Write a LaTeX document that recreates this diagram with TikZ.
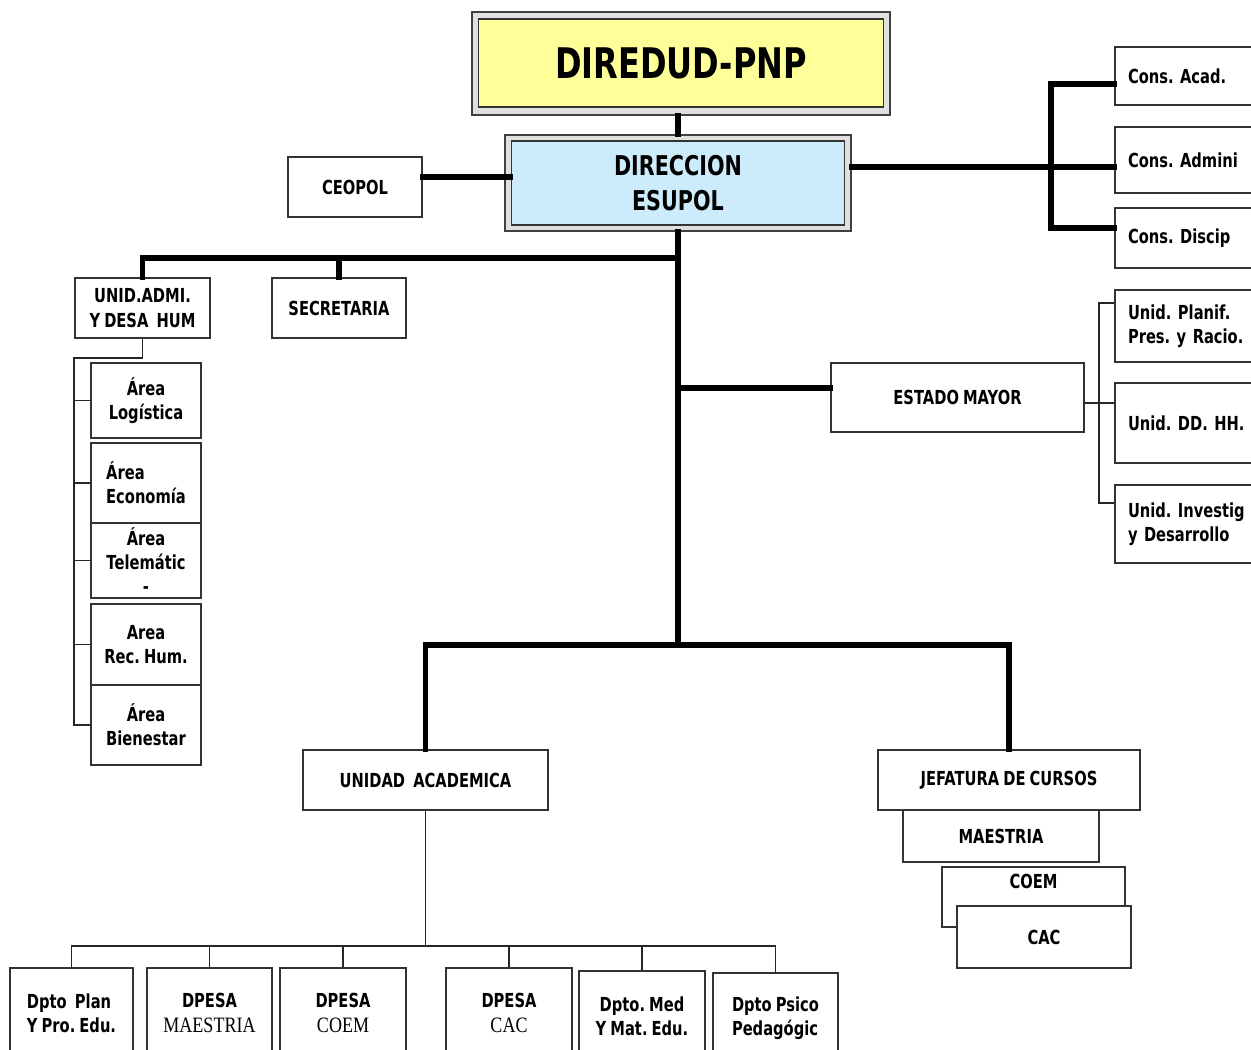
\documentclass[tikz,border=0pt]{standalone}
\usepackage{fontspec}
\setmainfont[FakeStretch=0.76,WordSpace=0.8]{DejaVu Sans}
\newfontfamily\dpesafont[FakeStretch=0.82]{Liberation Serif}
\usepackage{tikz}
\usetikzlibrary{positioning}
\frenchspacing
\definecolor{titleyellow}{RGB}{255,255,153}
\definecolor{dirblue}{RGB}{204,236,252}
\tikzset{unit box/.style={rectangle,draw=black!80,line width=1pt,fill=white,align=center,inner sep=1pt,
             font=\bfseries\fontsize{11}{13.8}\selectfont},
         left box/.style={unit box,align=left,inner xsep=0.26cm,text width=2.48cm},
         frame box/.style={rectangle,draw=black!75,line width=1pt,fill=black!12},
         trunk edge/.style={line width=3.2pt,line cap=rect},
         branch edge/.style={line width=1pt,draw=black!85},
}

\begin{document}
\begin{tikzpicture}[x=0.02cm,y=-0.02cm]

\path[use as bounding box,clip] (0,0) rectangle (1251,1049);
% \draw[help lines,step=50] (0,0) grid (1251,1049);

% top
\node [frame box, minimum width=8.36cm, minimum height=2.06cm] (top_0) at (681,63.5) {};
\node [unit box, fill=titleyellow, minimum width=8.1cm, minimum height=1.76cm,
       font=\bfseries\fontsize{24}{28}\selectfont] (top_1) at (681,63) {DIREDUD-PNP};
\node [frame box, minimum width=6.92cm, minimum height=1.92cm] (dir_0) at (678,183) {};
\node [unit box, fill=dirblue, minimum width=6.66cm, minimum height=1.68cm,
       font=\bfseries\fontsize{15.5}{19.5}\selectfont] (dir_1) at (678,183) {DIRECCION\\ESUPOL};
\node [unit box, minimum width=2.68cm, minimum height=1.2cm] (ceopol) at (355,187) {CEOPOL};

\node [left box, minimum height=1.16cm] (cons_1) at (1190,76) {Cons. Acad.};
\node [left box, minimum height=1.32cm] (cons_2) at (1190,160) {Cons. Admini};
\node [left box, minimum height=1.2cm] (cons_3) at (1190,238) {Cons. Discip};

% left side
\node [unit box, minimum width=2.7cm, minimum height=1.2cm] (adm_0) at (142.5,308) {UNID.ADMI.\\Y DESA\ \ HUM};
\node [unit box, minimum width=2.68cm, minimum height=1.2cm] (secre) at (339,308) {SECRETARIA};

\node [unit box, minimum width=2.2cm, minimum height=1.5cm] (area_1) at (146,400.5) {Área\\Logística};
\node [unit box, minimum width=2.2cm, minimum height=1.6cm, align=left] (area_2) at (146,483) {Área\\Economía};
\node [unit box, minimum width=2.2cm, minimum height=1.5cm] (area_3) at (146,560.5) {Área\\Telemátic\\-};
\node [unit box, minimum width=2.2cm, minimum height=1.62cm] (area_4) at (146,644.5) {Area\\Rec. Hum.};
\node [unit box, minimum width=2.2cm, minimum height=1.6cm] (area_5) at (146,725) {Área\\Bienestar};

% estado mayor
\node [unit box, minimum width=5.06cm, minimum height=1.38cm] (est_0) at (957.5,397.5) {ESTADO MAYOR};
\node [left box, minimum height=1.44cm] (est_1) at (1190,326) {Unid. Planif.\\Pres. y Racio.};
\node [left box, minimum height=1.6cm] (est_2) at (1190,423) {Unid. DD. HH.};
\node [left box, minimum height=1.56cm] (est_3) at (1190,524) {Unid. Investig\\y Desarrollo};

% lower part
\node [unit box, minimum width=4.9cm, minimum height=1.2cm] (acad_0) at (425.5,780) {UNIDAD\ \ ACADEMICA};
\node [unit box, minimum width=5.24cm, minimum height=1.2cm] (jef_0) at (1009,780) {JEFATURA DE CURSOS};
\node [unit box, minimum width=3.92cm, minimum height=1.04cm] (jef_1) at (1001,836) {MAESTRIA};
\node [unit box, minimum width=3.66cm, minimum height=1.2cm, text depth=0.62cm] (jef_2) at (1033.5,897) {COEM};
\node [unit box, minimum width=3.48cm, minimum height=1.24cm] (jef_3) at (1044,937) {CAC};

\node [unit box, minimum width=2.46cm, minimum height=1.8cm, align=left] (dept_1) at (71.5,1013) {Dpto\ \ Plan\\Y Pro. Edu.};
\node [unit box, minimum width=2.5cm, minimum height=1.8cm] (dept_2) at (209.5,1013) {DPESA\\{\dpesafont\mdseries\fontsize{12.5}{13.8}\selectfont MAESTRIA}};
\node [unit box, minimum width=2.52cm, minimum height=1.8cm] (dept_3) at (343,1013) {DPESA\\{\dpesafont\mdseries\fontsize{12.5}{13.8}\selectfont COEM}};
\node [unit box, minimum width=2.52cm, minimum height=1.8cm] (dept_4) at (509,1013) {DPESA\\{\dpesafont\mdseries\fontsize{12.5}{13.8}\selectfont CAC}};
\node [unit box, minimum width=2.52cm, minimum height=1.8cm] (dept_5) at (642,1016) {Dpto. Med\\Y Mat. Edu.};
\node [unit box, minimum width=2.5cm, minimum height=1.8cm, align=left] (dept_6) at (775.5,1018) {Dpto Psico\\Pedagógic};

\coordinate (trunk_1) at (678,258);
\coordinate (trunk_2) at (678,388);
\coordinate (trunk_3) at (678,645);

% connectors
\draw[trunk edge] (top_0.south -| dir_0.north) -- (dir_0.north);
\draw[trunk edge] (dir_0.south) -- (trunk_3);
\draw[trunk edge] ([yshift=0.2cm]ceopol.east) -- ([yshift=0.2cm]ceopol.east -| dir_1.west);
\draw[trunk edge] ([yshift=0.32cm]dir_0.east) -- ([yshift=-0.14cm]cons_2.west);
\draw[trunk edge] ([yshift=-0.16cm]cons_1.west) -- ++(-63,0) |- ([yshift=0.2cm]cons_3.west);

\draw[trunk edge] (adm_0.north) |- (trunk_1);
\draw[trunk edge] (secre.north) -- (secre.north |- trunk_1);
\draw[trunk edge] (trunk_2) -- (trunk_2 -| est_0.west);
\draw[trunk edge] (acad_0.north) |- (trunk_3) -| (jef_0.north);

\draw[branch edge] ([yshift=-0.11cm]est_0.east) -- ([yshift=0.4cm]est_2.west);
\draw[branch edge] ([yshift=0.46cm]est_1.west) -- ++(-15,0) |- ([yshift=0.42cm]est_3.west);

\draw[branch edge] (adm_0.south) -- ++(0,19) -| ([xshift=-0.32cm]area_5.west) -- (area_5.west);
\foreach \i in {1,...,4}
    \draw[branch edge] (area_\i.west) -- ++(-16,0);

\draw[branch edge] (acad_0.south) -- ++(0,135) coordinate (dept_bus);
\foreach \i in {1,...,6}
    \draw[branch edge] (dept_bus) -| (dept_\i.north);

\end{tikzpicture}
\end{document}
